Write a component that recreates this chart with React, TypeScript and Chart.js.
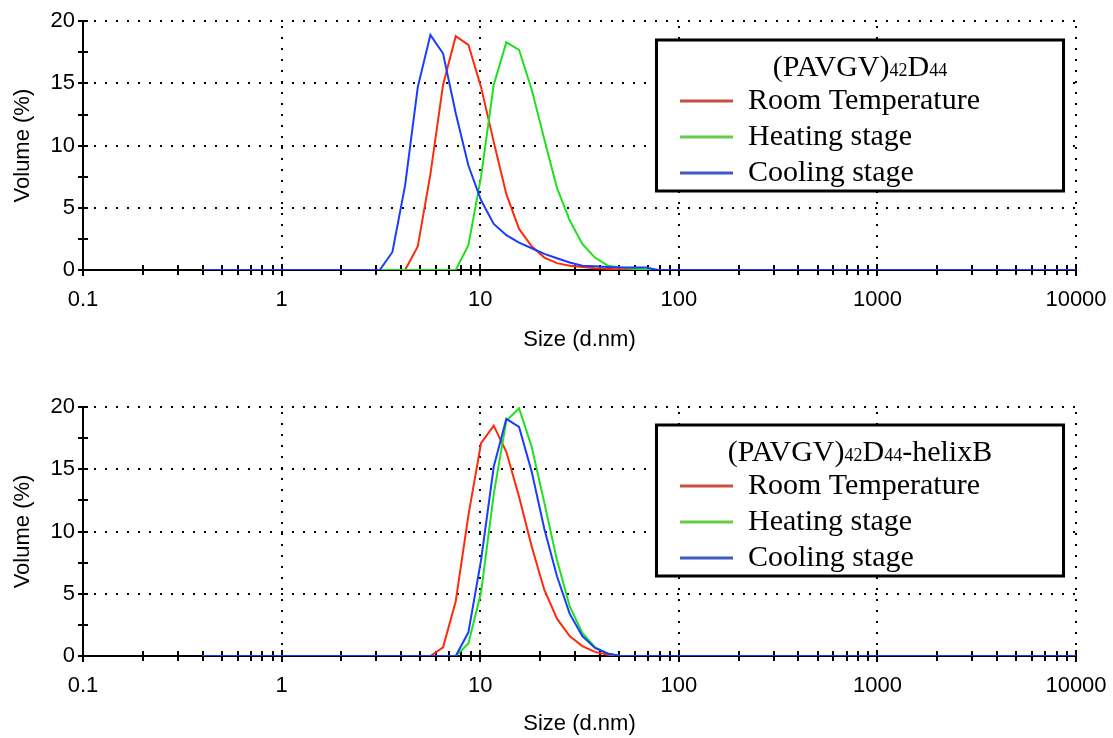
import React, { useEffect, useRef } from 'react';
import { Chart, registerables } from 'chart.js';

Chart.register(...registerables);

// Size bins (d.nm)
const SIZES = [
  0.4, 0.4632, 0.5365, 0.6213, 0.7195, 0.8332, 0.9649, 1.117, 1.294, 1.499,
  1.736, 2.01, 2.328, 2.696, 3.122, 3.615, 4.187, 4.849, 5.615, 6.503,
  7.531, 8.721, 10.1, 11.7, 13.54, 15.69, 18.17, 21.04, 24.36, 28.21,
  32.67, 37.84, 43.82, 50.75, 58.77, 68.06, 78.82, 91.28, 105.7, 122.4,
  141.8, 164.2, 190.1, 220.2, 255.0, 295.3, 342.0, 396.1, 458.7, 531.2,
  615.1, 712.4, 825.0, 955.4, 1106, 1281, 1484, 1718, 1990, 2305,
  2669, 3091, 3580, 4145, 4801, 5560, 6439, 7456, 8635, 10000,
];

// (PAVGV)42D44
const TOP_ROOM = [
  0, 0, 0, 0, 0, 0, 0, 0, 0, 0,
  0, 0, 0, 0, 0, 0, 0, 1.9, 7.7, 14.9,
  18.8, 18.1, 14.7, 10.3, 6.1, 3.3, 1.9, 1.0, 0.55, 0.35,
  0.25, 0.15, 0.1, 0.05, 0, 0, 0, 0, 0, 0,
  0, 0, 0, 0, 0, 0, 0, 0, 0, 0,
  0, 0, 0, 0, 0, 0, 0, 0, 0, 0,
  0, 0, 0, 0, 0, 0, 0, 0, 0, 0,
];
const TOP_HEATING = [
  0, 0, 0, 0, 0, 0, 0, 0, 0, 0,
  0, 0, 0, 0, 0, 0, 0, 0, 0, 0,
  0, 2.0, 7.5, 14.9, 18.3, 17.7, 14.5, 10.5, 6.6, 4.0,
  2.1, 1.0, 0.35, 0.2, 0.1, 0.05, 0, 0, 0, 0,
  0, 0, 0, 0, 0, 0, 0, 0, 0, 0,
  0, 0, 0, 0, 0, 0, 0, 0, 0, 0,
  0, 0, 0, 0, 0, 0, 0, 0, 0, 0,
];
const TOP_COOLING = [
  0, 0, 0, 0, 0, 0, 0, 0, 0, 0,
  0, 0, 0, 0, 0, 1.45, 6.8, 14.7, 18.9, 17.4,
  12.6, 8.4, 5.6, 3.7, 2.8, 2.2, 1.75, 1.3, 0.95, 0.6,
  0.35, 0.3, 0.25, 0.2, 0.2, 0.2, 0, 0, 0, 0,
  0, 0, 0, 0, 0, 0, 0, 0, 0, 0,
  0, 0, 0, 0, 0, 0, 0, 0, 0, 0,
  0, 0, 0, 0, 0, 0, 0, 0, 0, 0,
];

// (PAVGV)42D44-helixB
const BOTTOM_ROOM = [
  0, 0, 0, 0, 0, 0, 0, 0, 0, 0,
  0, 0, 0, 0, 0, 0, 0, 0, 0, 0.7,
  4.4, 11.3, 17.1, 18.5, 16.4, 12.8, 8.8, 5.3, 3.0, 1.6,
  0.8, 0.33, 0.1, 0, 0, 0, 0, 0, 0, 0,
  0, 0, 0, 0, 0, 0, 0, 0, 0, 0,
  0, 0, 0, 0, 0, 0, 0, 0, 0, 0,
  0, 0, 0, 0, 0, 0, 0, 0, 0, 0,
];
const BOTTOM_HEATING = [
  0, 0, 0, 0, 0, 0, 0, 0, 0, 0,
  0, 0, 0, 0, 0, 0, 0, 0, 0, 0,
  0, 1.0, 5.1, 13.0, 18.9, 19.9, 16.8, 12.3, 7.7, 4.0,
  1.85, 0.7, 0.2, 0, 0, 0, 0, 0, 0, 0,
  0, 0, 0, 0, 0, 0, 0, 0, 0, 0,
  0, 0, 0, 0, 0, 0, 0, 0, 0, 0,
  0, 0, 0, 0, 0, 0, 0, 0, 0, 0,
];
const BOTTOM_COOLING = [
  0, 0, 0, 0, 0, 0, 0, 0, 0, 0,
  0, 0, 0, 0, 0, 0, 0, 0, 0, 0,
  0, 1.9, 7.7, 15.2, 19.05, 18.4, 14.8, 10.2, 6.4, 3.4,
  1.6, 0.65, 0.2, 0, 0, 0, 0, 0, 0, 0,
  0, 0, 0, 0, 0, 0, 0, 0, 0, 0,
  0, 0, 0, 0, 0, 0, 0, 0, 0, 0,
  0, 0, 0, 0, 0, 0, 0, 0, 0, 0,
];

const SERIES_NAMES = ['Room Temperature', 'Heating stage', 'Cooling stage'];
const LINE_COLORS = ['#ff2a0a', '#1fe01f', '#1a3cff'];
const LEGEND_COLORS = ['#c8503c', '#66cc4a', '#3c5cc4'];

const X_TICKS = [0.1, 1, 10, 100, 1000, 10000];
const X_TICK_LABELS = ['0.1', '1', '10', '100', '1000', '10000'];
const X_MINOR_MULTIPLES = [2, 3, 4, 5, 6, 7, 8, 9];
const Y_TICKS = [0, 5, 10, 15, 20];
const Y_TICK_LABELS = ['0', '5', '10', '15', '20'];
const Y_MINOR_TICKS = [2.5, 7.5, 12.5, 17.5];

const TOP_TITLE: [string, boolean][] = [['(PAVGV)', false], ['42', true], ['D', false], ['44', true]];
const BOTTOM_TITLE: [string, boolean][] = [['(PAVGV)', false], ['42', true], ['D', false], ['44', true], ['-helixB', false]];

const SERIF = "'Liberation Serif', 'Times New Roman', serif";
const SANS = "'Liberation Sans', Arial, sans-serif";

const framePlugin = {
  id: 'frame',
  beforeDatasetsDraw(chart: any) {
    const { ctx, chartArea: a } = chart;
    const x = chart.scales.x;
    const y = chart.scales.y;
    const line = (x1: number, y1: number, x2: number, y2: number) => {
      ctx.beginPath();
      ctx.moveTo(x1, y1);
      ctx.lineTo(x2, y2);
      ctx.stroke();
    };
    ctx.save();
    ctx.strokeStyle = '#000';
    ctx.lineWidth = 2;
    ctx.setLineDash([2, 9]);
    X_TICKS.slice(1).forEach((v) => {
      const px = Math.round(x.getPixelForValue(v));
      line(px, a.bottom, px, a.top);
    });
    Y_TICKS.slice(1).forEach((v) => {
      const py = Math.round(y.getPixelForValue(v));
      line(a.left, py, a.right, py);
    });
    ctx.setLineDash([]);
    const left = Math.round(a.left);
    const bottom = Math.round(a.bottom);
    line(left, a.top, left, bottom + 1);
    line(left - 1, bottom, a.right, bottom);
    // x ticks
    X_TICKS.forEach((d, i) => {
      const px = Math.round(x.getPixelForValue(d));
      line(px, bottom - 6, px, bottom + 6);
      if (i < X_TICKS.length - 1) {
        X_MINOR_MULTIPLES.forEach((m) => {
          const mx = Math.round(x.getPixelForValue(d * m));
          line(mx, bottom - 5, mx, bottom + 5);
        });
      }
    });
    // y ticks
    [...Y_TICKS, ...Y_MINOR_TICKS].forEach((v) => {
      const py = Math.round(y.getPixelForValue(v));
      line(left - 5, py, left + 5, py);
    });
    ctx.restore();
  },
};

const legendPlugin = {
  id: 'boxLegend',
  afterDatasetsDraw(chart: any, _args: any, opts: any) {
    const { ctx, chartArea: a } = chart;
    const bx = a.right - 419.5;
    const by = opts.top;
    const bw = 407;
    const bh = 151;
    ctx.save();
    ctx.fillStyle = '#fff';
    ctx.fillRect(bx, by, bw, bh);
    ctx.strokeStyle = '#000';
    ctx.lineWidth = 3;
    ctx.strokeRect(bx, by, bw, bh);

    // title with subscripts
    const parts: [string, boolean][] = opts.title;
    const fontFor = (sub: boolean) => (sub ? `18px ${SERIF}` : `30px ${SERIF}`);
    let total = 0;
    parts.forEach(([t, sub]) => {
      ctx.font = fontFor(sub);
      total += ctx.measureText(t).width;
    });
    let tx = bx + bw / 2 - total / 2;
    ctx.fillStyle = '#000';
    ctx.textBaseline = 'alphabetic';
    ctx.textAlign = 'left';
    parts.forEach(([t, sub]) => {
      ctx.font = fontFor(sub);
      ctx.fillText(t, tx, by + 36);
      tx += ctx.measureText(t).width;
    });

    // rows
    ctx.font = `30px ${SERIF}`;
    ctx.textBaseline = 'middle';
    SERIES_NAMES.forEach((name, i) => {
      const ry = by + 61 + i * 36;
      ctx.strokeStyle = LEGEND_COLORS[i];
      ctx.lineWidth = 3;
      ctx.beginPath();
      ctx.moveTo(bx + 23.5, ry);
      ctx.lineTo(bx + 76.5, ry);
      ctx.stroke();
      ctx.fillStyle = '#000';
      ctx.fillText(name, bx + 91.5, ry);
    });
    ctx.restore();
  },
};

function makeConfig(series: number[][], title: [string, boolean][], padTop: number, xAxisHeight: number, legendTop: number): any {
  const orders = [3, 2, 1];
  return {
    type: 'line',
    data: {
      datasets: series.map((vals, i) => ({
        label: SERIES_NAMES[i],
        data: SIZES.map((s, j) => ({ x: s, y: vals[j] })),
        borderColor: LINE_COLORS[i],
        backgroundColor: LINE_COLORS[i],
        borderWidth: 2,
        pointRadius: 0,
        tension: 0,
        fill: false,
        borderJoinStyle: 'miter',
        order: orders[i],
      })),
    },
    options: {
      responsive: false,
      animation: false,
      devicePixelRatio: 1,
      layout: { padding: { top: padTop, right: 37, left: 0, bottom: 0 } },
      plugins: {
        legend: { display: false },
        tooltip: { enabled: false },
        boxLegend: { title, top: legendTop },
      },
      scales: {
        x: {
          type: 'logarithmic',
          min: 0.1,
          max: 10000,
          grid: { display: false, drawTicks: false },
          border: { display: false },
          afterBuildTicks: (s: any) => {
            s.ticks = X_TICKS.map((v) => ({ value: v }));
          },
          afterFit: (s: any) => {
            s.height = xAxisHeight;
            s.paddingLeft = 0;
            s.paddingRight = 0;
          },
          ticks: {
            autoSkip: false,
            maxRotation: 0,
            padding: 17,
            color: '#000',
            font: { family: SANS, size: 22 },
            callback: (_v: any, i: number) => X_TICK_LABELS[i],
          },
          title: {
            display: true,
            text: 'Size (d.nm)',
            color: '#000',
            font: { family: SANS, size: 22 },
            padding: { top: 0, bottom: 1 },
          },
        },
        y: {
          type: 'linear',
          min: 0,
          max: 20,
          grid: { display: false, drawTicks: false },
          border: { display: false },
          afterBuildTicks: (s: any) => {
            s.ticks = Y_TICKS.map((v) => ({ value: v }));
          },
          afterFit: (s: any) => {
            s.width = 83;
          },
          ticks: {
            padding: 8,
            color: '#000',
            font: { family: SANS, size: 22 },
            callback: (_v: any, i: number) => Y_TICK_LABELS[i],
          },
          title: {
            display: true,
            text: 'Volume (%)',
            color: '#000',
            font: { family: SANS, size: 22 },
            padding: { top: 10, bottom: 0 },
          },
        },
      },
    },
    plugins: [framePlugin, legendPlugin],
  };
}

function DLSChart(props: { series: number[][]; title: [string, boolean][]; height: number; padTop: number; xAxisHeight: number; legendTop: number }) {
  const ref = useRef<HTMLCanvasElement | null>(null);
  useEffect(() => {
    if (!ref.current) return;
    const chart = new Chart(ref.current, makeConfig(props.series, props.title, props.padTop, props.xAxisHeight, props.legendTop));
    return () => chart.destroy();
  }, []);
  return <canvas ref={ref} width={1113} height={props.height} style={{ display: 'block', width: 1113, height: props.height }} />;
}

export default function App() {
  return (
    <div style={{ position: 'absolute', left: 0, top: 0, width: 1113, height: 738, background: '#fff' }}>
      <DLSChart series={[TOP_ROOM, TOP_HEATING, TOP_COOLING]} title={TOP_TITLE} height={354} padTop={19} xAxisHeight={84} legendTop={40} />
      <DLSChart series={[BOTTOM_ROOM, BOTTOM_HEATING, BOTTOM_COOLING]} title={BOTTOM_TITLE} height={384} padTop={53} xAxisHeight={82} legendTop={71} />
    </div>
  );
}
